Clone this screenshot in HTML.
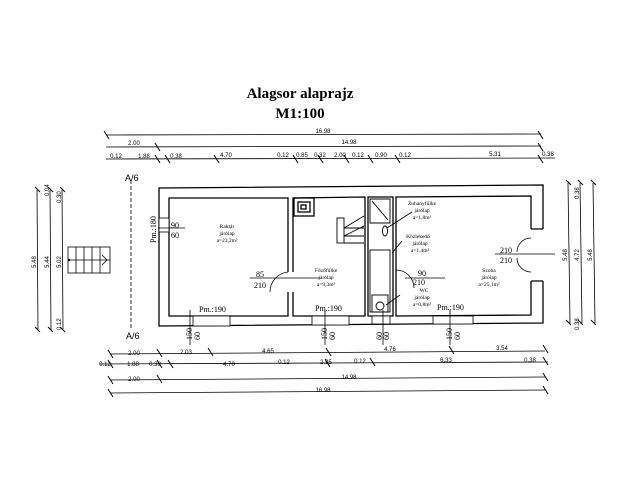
<!DOCTYPE html>
<html><head><meta charset="utf-8"><style>html,body{margin:0;padding:0;background:#fff}svg{display:block}</style></head>
<body>
<svg width="640" height="480" viewBox="0 0 640 480" xmlns="http://www.w3.org/2000/svg" font-family="Liberation Serif, serif">
<rect width="640" height="480" fill="#fff"/>
<text x="300" y="98" font-size="15" font-weight="bold" text-anchor="middle">Alagsor alaprajz</text>
<text x="300" y="118" font-size="15" font-weight="bold" text-anchor="middle">M1:100</text>

<g stroke="#000" stroke-width="0.8" fill="none">
<line x1="106" y1="135" x2="541" y2="134"/>
<line x1="106" y1="147" x2="541" y2="146"/>
<line x1="106" y1="159" x2="555" y2="158"/>
<line x1="110" y1="354" x2="545" y2="351"/>
<line x1="100" y1="364" x2="548" y2="362"/>
<line x1="110" y1="380" x2="545" y2="377"/>
<line x1="110" y1="393" x2="545" y2="390"/>
<line x1="37" y1="190" x2="38" y2="330"/>
<line x1="50" y1="190" x2="51" y2="330"/>
<line x1="62" y1="190" x2="63" y2="330"/>
<line x1="568" y1="183" x2="570" y2="323"/>
<line x1="580" y1="183" x2="582" y2="323"/>
<line x1="593" y1="183" x2="595" y2="323"/>
<line x1="131" y1="180" x2="131" y2="330" stroke-dasharray="4,2"/>
</g>
<g stroke="#000" stroke-width="1">
<path d="M104 131l5 8M155 143l5 8M155 155l5 8M165 155l5 8M214 155l5 8M293 155l5 8M318 155l5 8M344 155l5 8M368 155l5 8M395 155l5 8M538 131l5 8M538 143l5 8M538 155l5 8"/>
<path d="M108 350l5 8M157 349l5 8M208 348l5 8M326 348l5 8M449 346l5 8M543 345l5 8M108 360l5 8M157 360l5 8M168 360l5 8M325 359l5 8M370 358l5 8M543 357l5 8M108 376l5 8M157 375l5 8M543 373l5 8M108 389l5 8M543 386l5 8"/>
<path d="M35 187l5 5M48 187l5 5M60 187l5 5M35 327l5 5M48 327l5 5M60 327l5 5M566 180l5 5M578 180l5 5M591 180l5 5M566 320l5 5M578 320l5 5M591 320l5 5"/>
</g>
<g font-family="Liberation Sans, sans-serif" font-size="6" text-anchor="middle">
<text x="323" y="133">16.98</text>
<text x="134" y="145">2.00</text>
<text x="349" y="144">14.98</text>
<text x="116" y="158">0.12</text><text x="144" y="158">1.88</text><text x="176" y="158">0.38</text><text x="226" y="157">4.70</text><text x="283" y="157">0.12</text><text x="302" y="157">0.85</text><text x="320" y="157">0.32</text><text x="340" y="157">2.00</text><text x="358" y="157">0.12</text><text x="381" y="157">0.90</text><text x="405" y="157">0.12</text><text x="495" y="156">5.31</text><text x="548" y="156">0.38</text>
<text x="134" y="355">2.00</text><text x="186" y="354">2.03</text><text x="268" y="353">4.65</text><text x="390" y="351">4.76</text><text x="502" y="350">3.54</text>
<text x="105" y="366">0.12</text><text x="133" y="366">1.88</text><text x="155" y="366">0.38</text><text x="229" y="366">4.70</text><text x="284" y="364">0.12</text><text x="326" y="364">2.95</text><text x="360" y="363">0.12</text><text x="446" y="362">6.33</text><text x="530" y="362">0.38</text>
<text x="134" y="381">2.00</text><text x="349" y="379">14.98</text>
<text x="323" y="392">16.98</text>
</g>
<g font-family="Liberation Sans, sans-serif" font-size="6">
<text transform="translate(36,262) rotate(-90)" text-anchor="middle">5.48</text>
<text transform="translate(49,262) rotate(-90)" text-anchor="middle">5.44</text>
<text transform="translate(61,262) rotate(-90)" text-anchor="middle">5.02</text>
<text transform="translate(49,196) rotate(-90)">0.04</text>
<text transform="translate(61,203) rotate(-90)">0.30</text>
<text transform="translate(61,330) rotate(-90)">0.12</text>
<text transform="translate(567,255) rotate(-90)" text-anchor="middle">5.48</text>
<text transform="translate(579,255) rotate(-90)" text-anchor="middle">4.72</text>
<text transform="translate(592,255) rotate(-90)" text-anchor="middle">5.48</text>
<text transform="translate(579,199) rotate(-90)">0.38</text>
<text transform="translate(579,330) rotate(-90)">0.38</text>
</g>
<g font-family="Liberation Sans, sans-serif" font-size="9">
<text x="125" y="181">A/6</text>
<text x="126" y="339">A/6</text>
</g>
<g stroke="#000" stroke-width="0.8" fill="none">
<rect x="68" y="247" width="42" height="26"/>
<line x1="68" y1="260" x2="110" y2="260"/>
<path d="M76 247v26M84 247v26M92 247v26M100 247v26"/>
<path d="M102 255l5 5l-5 5"/>
</g>
<circle cx="69" cy="260" r="1.2"/>

<g stroke="#000" stroke-width="1.3" fill="none">
<path d="M543 229L543 185L159 188L159 326L543 323L543 281"/>
<path d="M288 272L288 198L169 198L169 316L288 316L288 292"/>
<path d="M293 272L293 198L365 197L365 316L293 316L293 292"/>
<path d="M368 197L393 197L393 316L368 316Z"/>
<path d="M531 229L531 196L396 197L396 316L531 315L531 281"/>
<path d="M531 229L543 229M531 281L543 281"/>
<rect x="294" y="198" width="20" height="18"/>
<rect x="298" y="202" width="12" height="10"/>
<rect x="301" y="205" width="5" height="4"/>
</g>
<g stroke="#000" stroke-width="0.9" fill="none">
<rect x="337" y="218" width="7" height="25"/>
<path d="M344 228h20M344 236h20M344 243h20M344 228l20 -12M344 236l20 -10"/>
<path d="M370 199h20v24h-20z"/>
<line x1="372" y1="201" x2="388" y2="220"/>
<rect x="370" y="250" width="20" height="62"/>
<rect x="372" y="295" width="16" height="17"/>
<circle cx="380" cy="306" r="4"/>
<ellipse cx="385" cy="231" rx="2.5" ry="5"/>
</g>
<g stroke="#000" stroke-width="0.8" fill="#fff">
<rect x="193" y="316" width="37" height="10"/>
<rect x="312" y="316" width="37" height="9"/>
<rect x="372" y="316" width="18" height="8"/>
<rect x="433" y="316" width="40" height="8"/>
<rect x="159" y="218" width="10" height="14"/>
</g>
<g stroke="#000" stroke-width="0.8" fill="none">
<path d="M288 272A20 20 0 0 0 270 292"/>
<line x1="250" y1="278" x2="320" y2="278"/>
<path d="M531 238A14 14 0 0 0 517 252M531 272A14 14 0 0 1 517 258"/>
<line x1="495" y1="254" x2="555" y2="254"/>
<line x1="158" y1="228" x2="185" y2="228"/>
<path d="M396 270A18 18 0 0 1 414 288"/>
<line x1="405" y1="278" x2="445" y2="278"/>
<line x1="190" y1="310" x2="190" y2="345"/>
<line x1="325" y1="310" x2="325" y2="345"/>
<line x1="383" y1="310" x2="383" y2="345"/>
<line x1="450" y1="310" x2="450" y2="345"/>
<path d="M387 228l25 -16M392 253l10 -12M386 305l14 -10"/>
</g>
<g font-size="8">
<text x="171" y="228">90</text><text x="171" y="238">60</text>
<text x="256" y="277">85</text><text x="254" y="288">210</text>
<text x="500" y="253">210</text><text x="500" y="263">210</text>
<text x="418" y="276">90</text><text x="413" y="285">210</text>
<text x="199" y="312">Pm.:190</text>
<text x="315" y="311">Pm.:190</text>
<text x="437" y="310">Pm.:190</text>
<text transform="translate(156,243) rotate(-90)">Pm.:180</text>
<text transform="translate(192,340) rotate(-90)">150</text><text transform="translate(200,340) rotate(-90)">60</text>
<text transform="translate(327,340) rotate(-90)">150</text><text transform="translate(335,340) rotate(-90)">60</text>
<text transform="translate(382,340) rotate(-90)">60</text><text transform="translate(389,340) rotate(-90)">60</text>
<text transform="translate(452,340) rotate(-90)">150</text><text transform="translate(460,340) rotate(-90)">60</text>
</g>
<g font-size="5.5" text-anchor="middle">
<text x="227" y="228">Raktár</text><text x="227" y="235">járólap</text><text x="227" y="242">a=23,2m²</text>
<text x="326" y="272">Főzőfülke</text><text x="326" y="279">járólap</text><text x="326" y="286">a=9,3m²</text>
<text x="422" y="205">Zuhanyfülke</text><text x="422" y="212">járólap</text><text x="422" y="219">a=1,8m²</text>
<text x="418" y="238">Közlekedő</text><text x="420" y="245">járólap</text><text x="420" y="252">a=1,4m²</text>
<text x="424" y="292">WC</text><text x="422" y="299">járólap</text><text x="422" y="306">a=0,8m²</text>
<text x="489" y="272">Szoba</text><text x="489" y="279">járólap</text><text x="489" y="286">a=25,1m²</text>
</g>
</svg>
</body></html>
